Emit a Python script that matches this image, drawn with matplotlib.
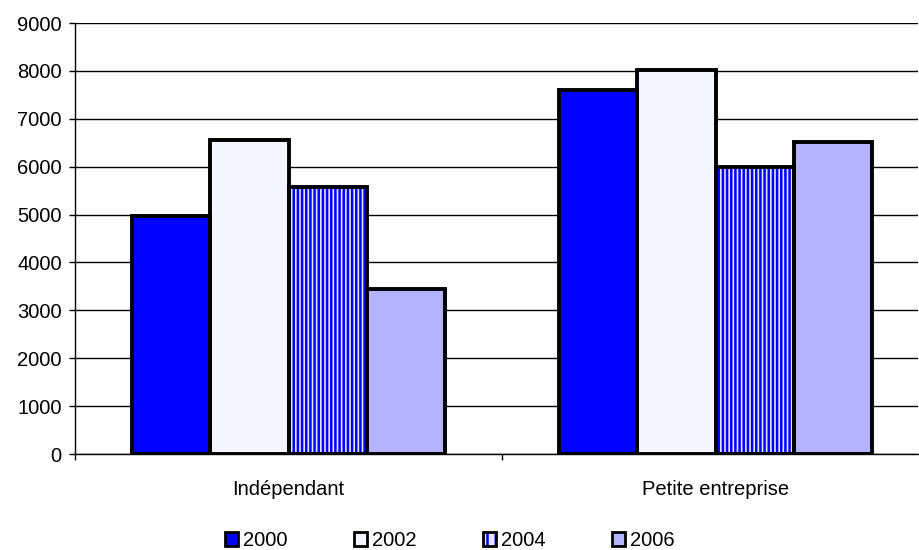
import matplotlib

matplotlib.use("Agg")
import matplotlib.pyplot as plt
import numpy as np
from matplotlib.legend_handler import HandlerTuple

plt.rcParams["font.family"] = ["Liberation Sans", "DejaVu Sans"]
plt.rcParams["hatch.linewidth"] = 1.8

categories = ["Indépendant", "Petite entreprise"]
years = ["2000", "2002", "2004", "2006"]
values = {
    "2000": [4970, 7600],
    "2002": [6560, 8020],
    "2004": [5570, 6000],
    "2006": [3450, 6510],
}
y_ticks = [0, 1000, 2000, 3000, 4000, 5000, 6000, 7000, 8000, 9000]

FACE = {"2000": "#0000ff", "2002": "#f5f5ff", "2004": "#e4e4ff", "2006": "#b3b3ff"}
HATCH = {"2004": "||||"}
BAR_W = 0.183
EDGE_LW = 2.8
LEG_LW = 2.0
FS = 14.5

fig = plt.figure(figsize=(9.19, 5.5), dpi=100)
ax = fig.add_axes([0.0816, 0.1745, 0.9173, 0.7836])

x = np.arange(len(categories))
handles = []
for i, year in enumerate(years):
    pos = x + (i - 1.5) * BAR_W
    hatch = HATCH.get(year)
    # fill (and stripes) on one layer, black outline on top so stripes can be blue
    ax.bar(pos, values[year], BAR_W, color=FACE[year], hatch=hatch,
           edgecolor="#0000ff", linewidth=0, zorder=2)
    ax.bar(pos, values[year], BAR_W, fill=False,
           edgecolor="black", linewidth=EDGE_LW, zorder=3)
    proxy = plt.Rectangle((0, 0), 1, 1, facecolor=FACE[year],
                          hatch="||" if hatch else None,
                          edgecolor="#0000ff", linewidth=0)
    frame = plt.Rectangle((0, 0), 1, 1, fill=False, edgecolor="black",
                          linewidth=LEG_LW)
    handles.append((proxy, frame))

ax.set_xlim(-0.5, 1.474)
ax.set_ylim(0, 9000)
ax.set_yticks(y_ticks)
ax.yaxis.grid(True, color="black", linewidth=1.0, zorder=0)
ax.set_axisbelow(True)

ax.set_xticks(x)
ax.set_xticklabels(categories)
ax.set_xticks([-0.5, 0.5], minor=True)
ax.tick_params(axis="x", which="major", length=0, pad=19, labelsize=FS)
ax.tick_params(axis="x", which="minor", length=4.5, width=1.0, color="black")
ax.tick_params(axis="y", length=4.5, width=1.0, pad=5, labelsize=FS)

for side in ("top", "right"):
    ax.spines[side].set_visible(False)
for side in ("left", "bottom"):
    ax.spines[side].set_linewidth(1.0)
    ax.spines[side].set_color("black")

fig.legend(handles, years, loc="center", bbox_to_anchor=(0.4895, 0.017),
           ncol=4, frameon=False, fontsize=FS, handlelength=0.65,
           handleheight=0.65, handletextpad=0.25, columnspacing=3.3,
           handler_map={tuple: HandlerTuple(ndivide=1, pad=0)})

fig.savefig("out.png", dpi=100)
